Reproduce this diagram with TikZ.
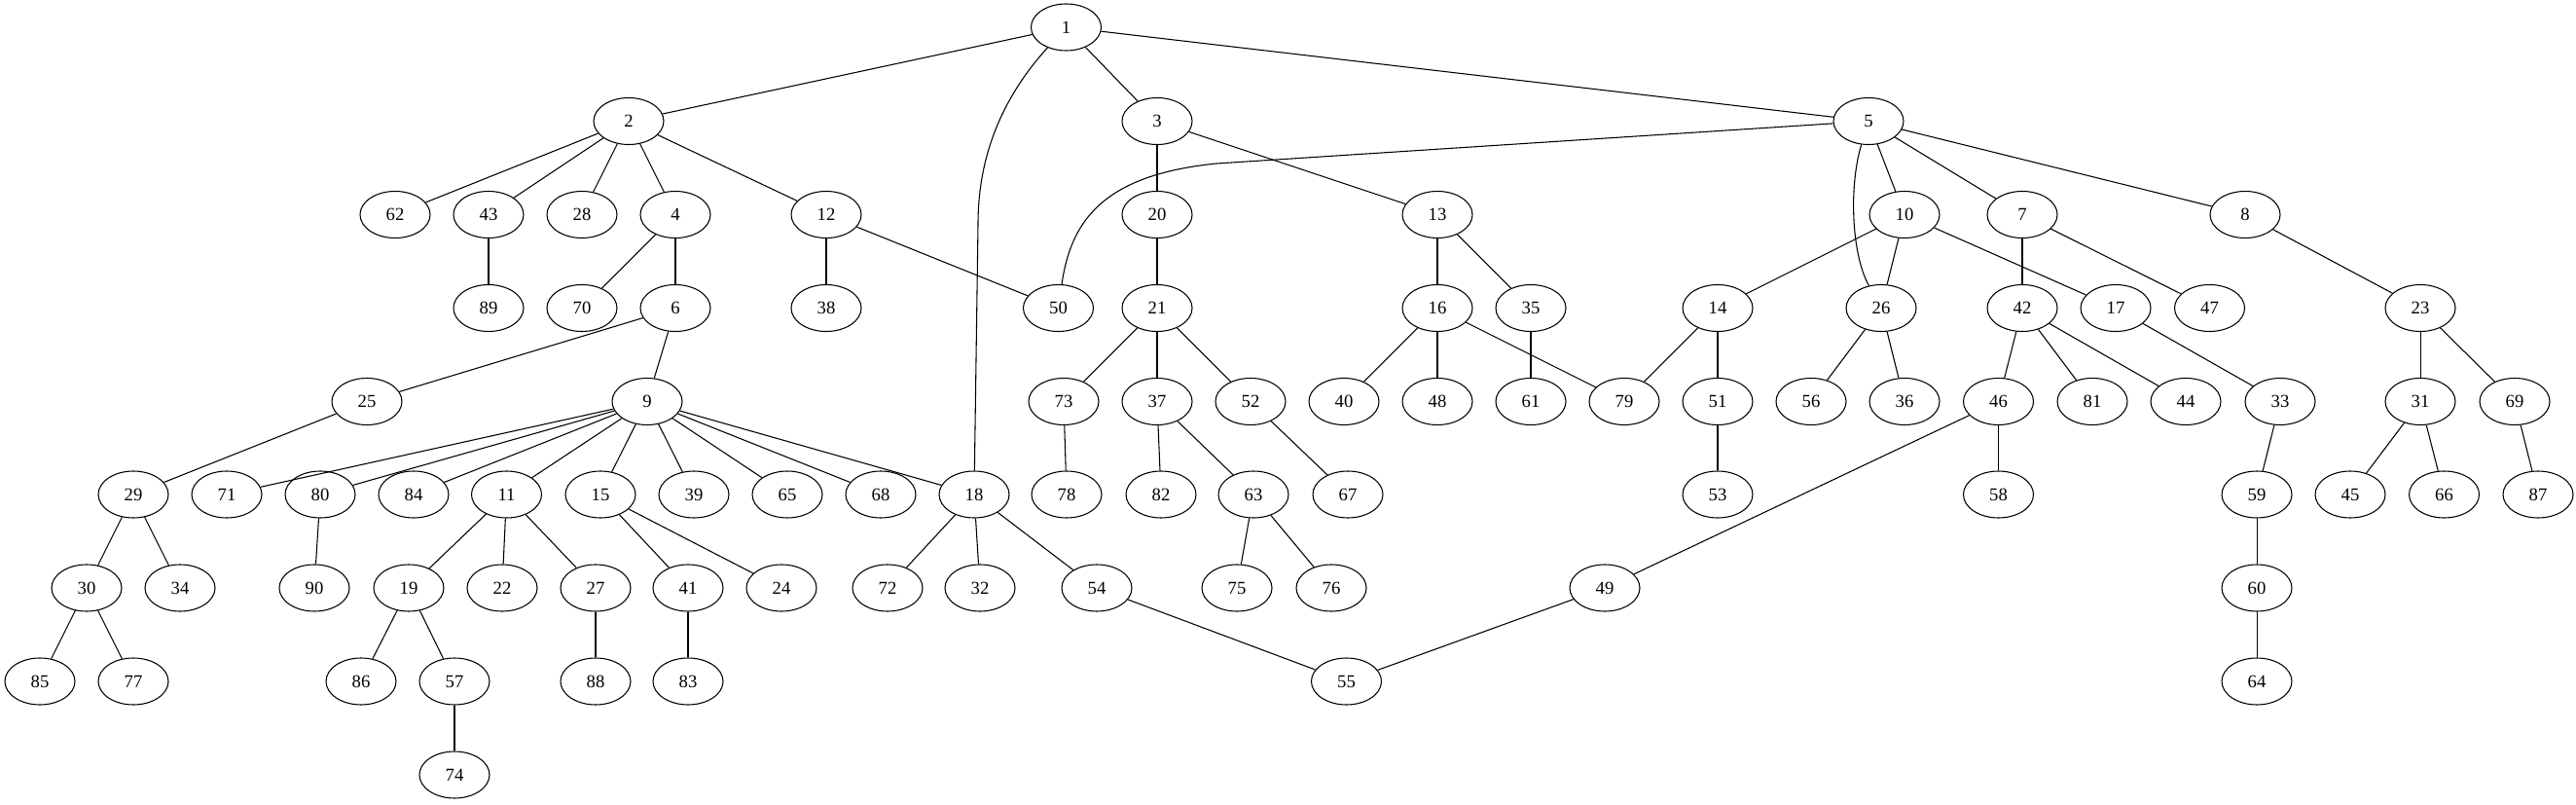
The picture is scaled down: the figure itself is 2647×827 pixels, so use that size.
\documentclass[tikz,border=0pt]{standalone}
\usepackage{fontspec}
\setmainfont{Liberation Serif}
\usetikzlibrary{shapes.geometric}
\tikzset{
  v/.style={draw, ellipse, minimum width=54pt, minimum height=36pt, inner sep=0pt, line width=0.8pt, font=\fontsize{14pt}{16pt}\selectfont},
  e/.style={line width=0.8pt}
}
\begin{document}
\begin{tikzpicture}[x=0.75pt, y=-0.75pt]
\useasboundingbox (0,0) rectangle (2647,827);
% row 1
\node[v] (n1) at (1095.5,28) {1};
% row 2
\node[v] (n2) at (646,124.5) {2};
\node[v] (n3) at (1189,124.5) {3};
\node[v] (n5) at (1920,124.5) {5};
% row 3
\node[v] (n62) at (406,220.5) {62};
\node[v] (n43) at (502,220.5) {43};
\node[v] (n28) at (598,220.5) {28};
\node[v] (n4) at (694,220.5) {4};
\node[v] (n12) at (849,220.5) {12};
\node[v] (n20) at (1189,220.5) {20};
\node[v] (n13) at (1477,220.5) {13};
\node[v] (n10) at (1957,220.5) {10};
\node[v] (n7) at (2078,220.5) {7};
\node[v] (n8) at (2307,220.5) {8};
% row 4
\node[v] (n89) at (502,316.5) {89};
\node[v] (n70) at (598,316.5) {70};
\node[v] (n6) at (694,316.5) {6};
\node[v] (n38) at (849,316.5) {38};
\node[v] (n50) at (1087.5,316.5) {50};
\node[v] (n21) at (1189,316.5) {21};
\node[v] (n16) at (1477,316.5) {16};
\node[v] (n35) at (1573,316.5) {35};
\node[v] (n14) at (1765,316.5) {14};
\node[v] (n26) at (1933,316.5) {26};
\node[v] (n42) at (2078,316.5) {42};
\node[v] (n17) at (2174,316.5) {17};
\node[v] (n47) at (2270.5,316.5) {47};
\node[v] (n23) at (2487,316.5) {23};
% row 5
\node[v] (n25) at (377,412.5) {25};
\node[v] (n9) at (665,412.5) {9};
\node[v] (n73) at (1093,412.5) {73};
\node[v] (n37) at (1189,412.5) {37};
\node[v] (n52) at (1285,412.5) {52};
\node[v] (n40) at (1381,412.5) {40};
\node[v] (n48) at (1477,412.5) {48};
\node[v] (n61) at (1573,412.5) {61};
\node[v] (n79) at (1669,412.5) {79};
\node[v] (n51) at (1765,412.5) {51};
\node[v] (n56) at (1861,412.5) {56};
\node[v] (n36) at (1957,412.5) {36};
\node[v] (n46) at (2053.5,412.5) {46};
\node[v] (n81) at (2150,412.5) {81};
\node[v] (n44) at (2246,412.5) {44};
\node[v] (n33) at (2343,412.5) {33};
\node[v] (n31) at (2487,412.5) {31};
\node[v] (n69) at (2584,412.5) {69};
% row 6
\node[v] (n29) at (137,508) {29};
\node[v] (n71) at (233,508) {71};
\node[v] (n80) at (329,508) {80};
\node[v] (n84) at (425,508) {84};
\node[v] (n11) at (520.5,508) {11};
\node[v] (n15) at (617,508) {15};
\node[v] (n39) at (713,508) {39};
\node[v] (n65) at (809,508) {65};
\node[v] (n68) at (905,508) {68};
\node[v] (n18) at (1001,508) {18};
\node[v] (n78) at (1096,508) {78};
\node[v] (n82) at (1193,508) {82};
\node[v] (n63) at (1288,508) {63};
\node[v] (n67) at (1385,508) {67};
\node[v] (n53) at (1765,508) {53};
\node[v] (n58) at (2053.5,508) {58};
\node[v] (n59) at (2319,508) {59};
\node[v] (n45) at (2415,508) {45};
\node[v] (n66) at (2511.5,508) {66};
\node[v] (n87) at (2608,508) {87};
% row 7
\node[v] (n30) at (89,604) {30};
\node[v] (n34) at (185,604) {34};
\node[v] (n90) at (323,604) {90};
\node[v] (n19) at (420,604) {19};
\node[v] (n22) at (516,604) {22};
\node[v] (n27) at (612,604) {27};
\node[v] (n41) at (707,604) {41};
\node[v] (n24) at (803,604) {24};
\node[v] (n72) at (912,604) {72};
\node[v] (n32) at (1007,604) {32};
\node[v] (n54) at (1127,604) {54};
\node[v] (n75) at (1271,604) {75};
\node[v] (n76) at (1368,604) {76};
\node[v] (n49) at (1649,604) {49};
\node[v] (n60) at (2319,604) {60};
% row 8
\node[v] (n85) at (41,700) {85};
\node[v] (n77) at (137,700) {77};
\node[v] (n86) at (371,700) {86};
\node[v] (n57) at (467,700) {57};
\node[v] (n88) at (612,700) {88};
\node[v] (n83) at (707,700) {83};
\node[v] (n55) at (1383.5,700) {55};
\node[v] (n64) at (2319,700) {64};
% row 9
\node[v] (n74) at (467,796) {74};
% waypoints
\coordinate (w118) at (1005,230);
\coordinate (w550) at (1250,168);
% edges
\draw[e] (n1) -- (n2);
\draw[e] (n1) -- (n3);
\draw[e] (n1) -- (n5);
\draw[e] (n1) .. controls (1030,100) and (1005,160) .. (w118) -- (n18);
\foreach \a/\b in {2/62,2/43,2/28,2/4,2/12,3/20,3/13,5/10,5/7,5/8,
  43/89,4/70,4/6,12/38,12/50,20/21,13/16,13/35,10/14,10/26,10/17,7/42,7/47,8/23,
  6/25,6/9,21/73,21/37,21/52,16/40,16/48,16/79,35/61,14/79,14/51,26/56,26/36,
  42/46,42/81,42/44,17/33,23/31,23/69,25/29,
  9/71,9/80,9/84,9/11,9/15,9/39,9/65,9/68,9/18,73/78,37/82,37/63,52/67,51/53,
  46/58,46/49,33/59,31/45,31/66,69/87,29/30,29/34,80/90,11/19,11/22,11/27,
  15/41,15/24,18/72,18/32,18/54,63/75,63/76,59/60,30/85,30/77,19/86,19/57,
  27/88,41/83,54/55,49/55,60/64,57/74}
  {\draw[e] (n\a) -- (n\b);}
\draw[e] (n5) -- (w550) .. controls (1130,180) and (1100,230) .. (n50);
\draw[e] (n5) .. controls (1900,190) and (1902,260) .. (n26);
\end{tikzpicture}
\end{document}
